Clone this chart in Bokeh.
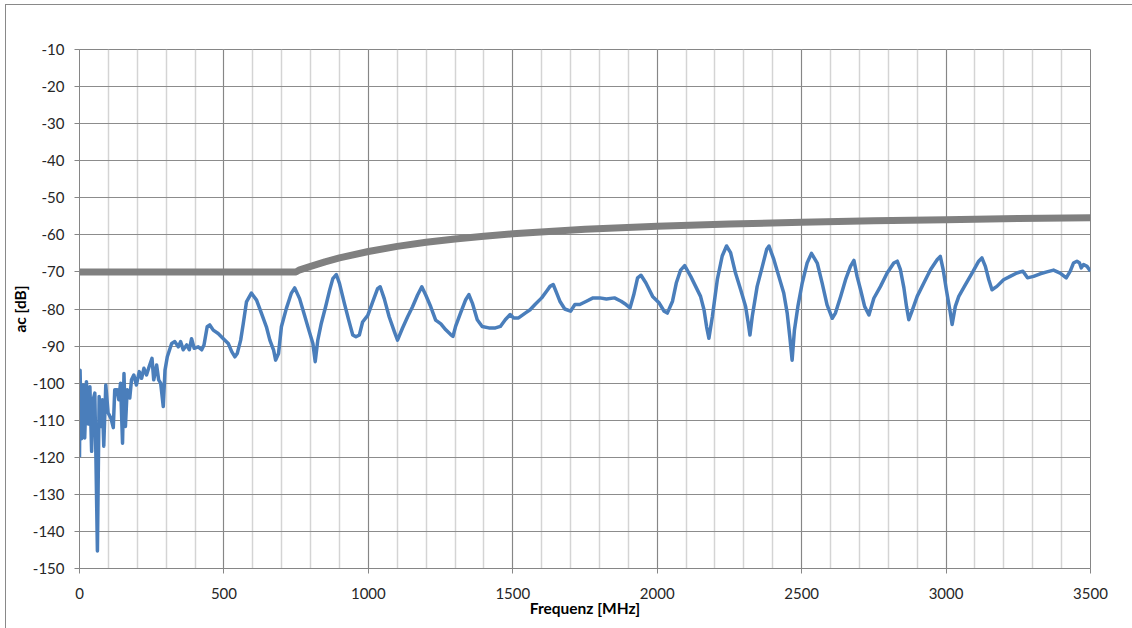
from bokeh.plotting import figure
from bokeh.models import Range1d, SingleIntervalTicker, CustomJSTickFormatter
from bokeh.embed import file_html
from bokeh.resources import INLINE

# Measured curve (blue)
blue_f = [0, 2, 7, 13, 18, 24, 30, 36, 42, 47, 53, 57, 62, 68, 73, 79, 84, 91, 99, 109,
          117, 122, 130, 136, 142, 149, 154, 159, 165, 174, 180, 188, 197, 207, 215, 223, 232, 241, 251, 257,
          267, 274, 281, 290, 296, 304, 319, 330, 342, 350, 359, 371, 380, 388, 397, 411, 423, 431, 442, 451,
          463, 480, 498, 515, 527, 538, 546, 558, 567, 578, 595, 613, 630, 647, 659, 672, 679, 689, 699, 716,
          733, 745, 762, 779, 794, 808, 816, 825, 837, 852, 866, 877, 889, 900, 917, 932, 946, 957, 969, 980,
          998, 1015, 1032, 1041, 1055, 1072, 1090, 1101, 1118, 1136, 1153, 1170, 1185, 1199, 1216, 1233, 1251, 1268, 1285, 1293,
          1302, 1319, 1337, 1348, 1360, 1377, 1394, 1417, 1440, 1457, 1474, 1491, 1503, 1520, 1543, 1560, 1577, 1600, 1617, 1629,
          1640, 1652, 1663, 1680, 1700, 1715, 1732, 1755, 1778, 1801, 1824, 1852, 1875, 1892, 1906, 1919, 1932, 1944, 1961, 1984,
          2007, 2024, 2035, 2053, 2066, 2081, 2095, 2116, 2133, 2150, 2162, 2171, 2179, 2191, 2208, 2225, 2240, 2254, 2271, 2289,
          2306, 2315, 2321, 2329, 2346, 2364, 2379, 2387, 2404, 2421, 2438, 2450, 2459, 2467, 2475, 2487, 2502, 2519, 2534, 2554,
          2571, 2588, 2606, 2617, 2635, 2652, 2669, 2681, 2692, 2704, 2718, 2733, 2750, 2773, 2796, 2819, 2831, 2842, 2854, 2863,
          2871, 2882, 2900, 2923, 2946, 2969, 2980, 2990, 3001, 3013, 3021, 3032, 3044, 3067, 3090, 3113, 3124, 3136, 3148, 3159,
          3176, 3199, 3222, 3245, 3266, 3282, 3303, 3326, 3349, 3372, 3395, 3416, 3430, 3441, 3453, 3462, 3468, 3476, 3488, 3500]
blue_db = [-120, -96.5, -115, -100.5, -114.8, -99.6, -111, -101, -118.4, -104.5, -102.7, -120.7, -145.3, -103.6, -111.7, -104.5, -117, -100.5, -108, -109.5,
           -112, -101.8, -101.8, -104.5, -100, -116.2, -97.4, -111.7, -101.8, -104, -99.1, -97.8, -100.5, -96.9, -98.7, -96, -97.8, -95.6, -93.3, -99.1,
           -95.1, -99.1, -100, -106.3, -96.5, -92.9, -89.3, -88.8, -90.2, -88.8, -91, -89.7, -91, -88, -90.6, -90.2, -91, -89.7, -84.8, -84.3,
           -85.7, -86.6, -88, -89.3, -91.5, -92.9, -92, -88.4, -83.9, -78.1, -75.7, -77.6, -81.2, -84.8, -88.4, -91.1, -93.8, -92, -84.8, -79.9,
           -75.8, -74.3, -77.2, -81.7, -85.7, -89.3, -94.2, -88.4, -83.9, -79.4, -74.9, -71.8, -70.7, -73.1, -78.5, -83, -87, -87.5, -87, -83.5,
           -81.7, -78.1, -74.5, -74, -77.2, -82.1, -86.1, -88.4, -85.2, -82.1, -79.4, -76.3, -74, -76.3, -79.4, -83, -84, -85.6, -86.9, -87.4,
           -84.7, -81.1, -77.5, -76.1, -78.4, -82.9, -84.7, -85.1, -85.1, -84.7, -82.9, -81.5, -82.4, -82.4, -81.1, -80.2, -78.8, -77, -75.2, -73.9,
           -73.4, -75.7, -77.9, -80, -80.6, -78.8, -78.8, -77.9, -77, -77, -77.3, -77, -77.9, -78.8, -79.7, -76.1, -71.6, -70.9, -73, -76.6,
           -78.4, -80.6, -81.1, -77.9, -73, -69.5, -68.3, -71.2, -73.9, -76.6, -80.2, -84.8, -87.9, -82, -72.1, -65.7, -63, -64.8, -70.3, -74.8,
           -79.3, -83.8, -87, -82, -73.9, -68.5, -63.9, -63, -66.7, -71.2, -75.7, -81.1, -87.5, -93.8, -85.7, -79.3, -73, -67.6, -65, -67.6,
           -73, -78.9, -82.5, -81.1, -76.6, -72.1, -68.5, -66.9, -71.2, -74.8, -79.3, -81.6, -77.1, -73.9, -70.3, -67.6, -67.1, -69.4, -74.3, -79.3,
           -82.9, -80.6, -76.6, -73, -69.4, -66.7, -65.8, -69.4, -74.8, -80.2, -84.2, -79.3, -76.6, -73.4, -70.3, -67.1, -66.2, -68.5, -72.1, -74.8,
           -73.9, -72.1, -71.2, -70.3, -69.8, -71.6, -71.2, -70.5, -70, -69.5, -70.3, -71.6, -69.8, -67.6, -67.1, -67.6, -68.9, -68, -68.5, -69.8]

# Limit line (gray)
limit_f = [0, 750, 760, 800, 850, 900, 1000, 1100, 1200, 1300, 1400, 1500, 1750, 2000, 2250, 2500, 2750, 3000, 3250, 3500]
limit_db = [-70, -70, -69.5, -68.5, -67.3, -66.2, -64.5, -63.1, -62.0, -61.1, -60.4, -59.7, -58.5, -57.7, -57.1, -56.6, -56.2, -55.9, -55.6, -55.4]

x_title = "Frequenz [MHz]"
y_title = "ac [dB]"

FONT = "Lato"
p = figure(width=1132, height=628, output_backend="svg", toolbar_location=None,
           x_range=Range1d(0, 3500), y_range=Range1d(-150, -10),
           min_border_left=79, min_border_right=42, min_border_top=49, min_border_bottom=60)
p.background_fill_color = "white"
p.border_fill_alpha = 0
p.outline_line_color = "#868686"
# outer chart border (left and top edges; the rest lies outside the window)
p.styles = {
    "background": "linear-gradient(#898989, #898989) 5px 4px / 1px 100% no-repeat, "
                  "linear-gradient(#898989, #898989) 5px 4px / 100% 1px no-repeat, white"
}

p.xaxis.ticker = SingleIntervalTicker(interval=500, num_minor_ticks=5)
p.yaxis.ticker = SingleIntervalTicker(interval=10, num_minor_ticks=0)
p.xaxis.formatter = CustomJSTickFormatter(code="return tick.toFixed(0);")
p.yaxis.formatter = CustomJSTickFormatter(code="return tick.toFixed(0);")

p.xgrid.grid_line_color = "#868686"
p.xgrid.minor_grid_line_color = "#d4d4d4"
p.xgrid.minor_grid_line_width = 1.5
p.ygrid.grid_line_color = "#8c8c8c"

for ax in (p.xaxis, p.yaxis):
    ax.axis_line_color = "#868686"
    ax.major_tick_line_color = "#868686"
    ax.minor_tick_line_color = None
    ax.major_tick_out = 5
    ax.major_tick_in = 0
    ax.major_label_text_font = FONT
    ax.major_label_text_font_size = "15px"
    ax.major_label_text_color = "#262626"
    ax.axis_label_text_font = FONT
    ax.axis_label_text_font_size = "15.5px"
    ax.axis_label_text_font_style = "bold"
    ax.axis_label_text_color = "#000000"

p.yaxis.major_label_standoff = 10
p.xaxis.major_label_standoff = 14
p.xaxis.axis_label = x_title
p.yaxis.axis_label = y_title
p.xaxis.axis_label_standoff = -3
p.yaxis.axis_label_standoff = 1

p.line(limit_f, limit_db, line_color="#808080", line_width=7, line_cap="butt")
p.line(blue_f, blue_db, line_color="#4A7EBB", line_width=3.5, line_join="round")

open("out.html", "w").write(file_html(p, INLINE))
